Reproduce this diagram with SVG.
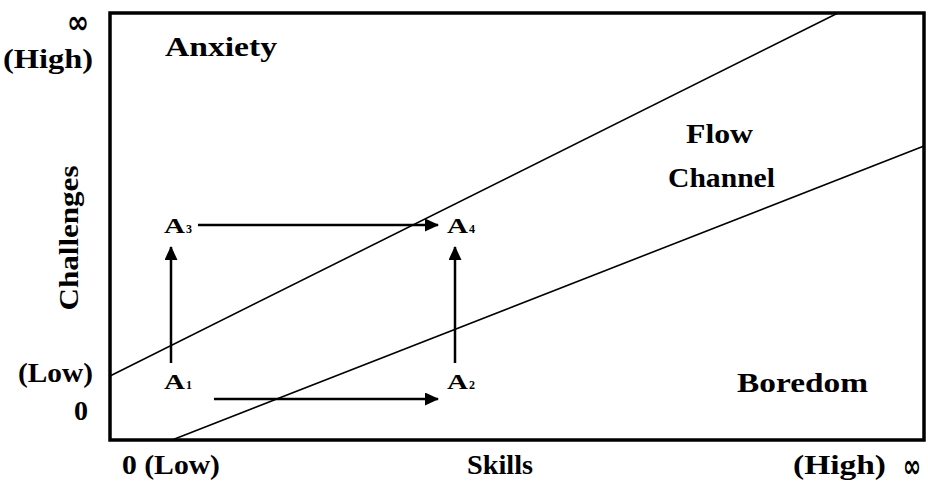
<svg xmlns="http://www.w3.org/2000/svg" width="928" height="487" viewBox="0 0 928 487">
<style>
text{font-family:"Liberation Serif","Times New Roman",serif;font-weight:bold;fill:#000}
.lbl{font-size:28px}
.inf{font-family:"DejaVu Sans",sans-serif;font-size:32px}
.a{font-size:20px}
.sub{font-size:12px}
.diag{stroke:#000;stroke-width:1.6;fill:none}
.arr{stroke:#000;stroke-width:2.5;fill:none;marker-end:url(#ah)}
</style>
<defs>
<marker id="ah" markerWidth="14" markerHeight="14" refX="13" refY="6.5" orient="auto" markerUnits="userSpaceOnUse">
<path d="M0,0 L14,6.5 L0,13 Z" fill="#000"/>
</marker>
</defs>
<rect width="928" height="487" fill="#fff"/>
<g id="frame">
<rect x="110" y="13" width="814" height="427" fill="none" stroke="#000" stroke-width="3.5"/>
<line class="diag" x1="110" y1="376" x2="838" y2="13"/>
<line class="diag" x1="172" y1="440" x2="924" y2="146"/>
</g>
<g id="axis-labels">
<text class="inf" x="67" y="33" textLength="22" lengthAdjust="spacingAndGlyphs">∞</text>
<text class="lbl" x="3" y="68" textLength="90" lengthAdjust="spacingAndGlyphs">(High)</text>
<text class="lbl" x="18" y="382" textLength="75" lengthAdjust="spacingAndGlyphs">(Low)</text>
<text class="lbl" x="74" y="420">0</text>
<text class="lbl" x="122" y="474" textLength="98" lengthAdjust="spacingAndGlyphs">0 (Low)</text>
<text class="lbl" x="467" y="474" textLength="66" lengthAdjust="spacingAndGlyphs">Skills</text>
<text class="lbl" x="793" y="474" textLength="93" lengthAdjust="spacingAndGlyphs">(High)</text>
<text class="inf" x="903" y="477" textLength="18" lengthAdjust="spacingAndGlyphs">∞</text>
<text class="lbl" transform="translate(78,238) rotate(-90)" text-anchor="middle" textLength="145" lengthAdjust="spacingAndGlyphs">Challenges</text>
</g>
<g id="anxiety"><text class="lbl" x="165" y="56" textLength="112" lengthAdjust="spacingAndGlyphs">Anxiety</text></g>
<g id="flow-channel">
<text class="lbl" x="686" y="143" textLength="67" lengthAdjust="spacingAndGlyphs">Flow</text>
<text class="lbl" x="668" y="187" textLength="107" lengthAdjust="spacingAndGlyphs">Channel</text>
</g>
<g id="boredom"><text class="lbl" x="737" y="392" textLength="131" lengthAdjust="spacingAndGlyphs">Boredom</text></g>
<g id="A1"><text class="a" x="164" y="389" textLength="21" lengthAdjust="spacingAndGlyphs">A</text><text class="sub" x="186" y="389">1</text></g>
<g id="A2"><text class="a" x="447" y="389" textLength="21" lengthAdjust="spacingAndGlyphs">A</text><text class="sub" x="469" y="389">2</text></g>
<g id="A3"><text class="a" x="164" y="233" textLength="21" lengthAdjust="spacingAndGlyphs">A</text><text class="sub" x="186" y="233">3</text></g>
<g id="A4"><text class="a" x="447" y="233" textLength="21" lengthAdjust="spacingAndGlyphs">A</text><text class="sub" x="469" y="233">4</text></g>
<g id="connectors">
<line class="arr" x1="198" y1="225" x2="438" y2="225"/>
<line class="arr" x1="214" y1="399" x2="438" y2="399"/>
<line class="arr" x1="171" y1="363" x2="171" y2="247"/>
<line class="arr" x1="455" y1="363" x2="455" y2="247"/>
</g>
</svg>
